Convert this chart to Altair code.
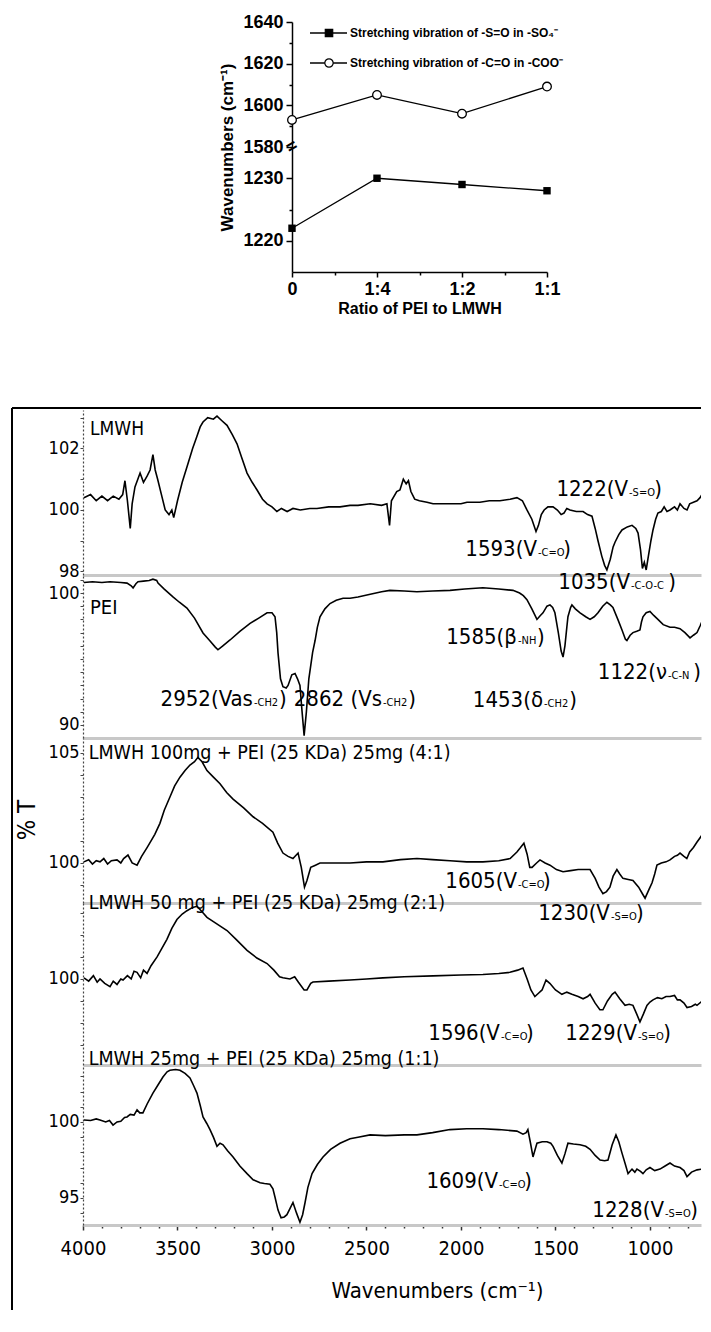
import altair as alt
import pandas as pd

# ---------------- top chart data ----------------
ratio_labels = ["0", "1:4", "1:2", "1:1"]
so_wavenumber = [1222, 1230, 1229, 1228]
co_wavenumber = [1593, 1605, 1596, 1609]
series_names = ["Stretching vibration of -S=O in -SO\u2084\u207b",
                "Stretching vibration of -C=O in -COO\u207b"]

# ---------------- FTIR spectra (wavenumber, %T) ----------------
lmwh = [(3995,100.4),(3960,100.5),(3930,100.3),(3900,100.45),(3870,100.3),(3840,100.45),(3810,100.35),(3790,100.5),(3778,100.95),(3765,100.3),(3750,99.4),(3740,100.2),(3725,100.75),(3710,101.0),(3698,101.2),(3680,100.9),(3661,101.1),(3645,101.3),(3630,101.8),(3618,101.3),(3605,101.0),(3585,100.5),(3565,100.0),(3545,99.85),(3530,100.0),(3520,99.75),(3500,100.3),(3475,100.9),(3450,101.4),(3420,102.0),(3397,102.4),(3380,102.7),(3365,102.86),(3340,103.0),(3310,102.95),(3291,103.05),(3265,102.9),(3238,102.75),(3210,102.45),(3185,102.15),(3160,101.7),(3132,101.2),(3105,100.9),(3079,100.65),(3050,100.35),(3026,100.2),(3000,100.1),(2974,99.95),(2950,100.05),(2920,99.95),(2889,100.05),(2850,100.0),(2800,100.05),(2762,100.05),(2700,100.1),(2640,100.1),(2587,100.15),(2545,100.15),(2480,100.2),(2420,100.15),(2392,100.2),(2378,99.5),(2368,100.3),(2340,100.6),(2323,100.65),(2305,101.0),(2290,100.85),(2278,100.95),(2265,100.6),(2245,100.35),(2220,100.3),(2180,100.25),(2148,100.2),(2080,100.2),(2000,100.2),(1968,100.25),(1900,100.25),(1850,100.3),(1794,100.3),(1740,100.35),(1704,100.4),(1675,100.3),(1651,100.0),(1625,99.7),(1603,99.3),(1590,99.5),(1575,99.85),(1560,100.0),(1540,100.1),(1513,100.1),(1490,100.0),(1470,99.85),(1455,99.9),(1440,100.05),(1423,100.0),(1390,99.95),(1354,99.95),(1330,99.85),(1307,99.8),(1290,99.4),(1275,99.0),(1255,98.5),(1240,98.2),(1228,98.05),(1210,98.4),(1195,98.8),(1185,98.95),(1165,99.2),(1148,99.35),(1120,99.45),(1095,99.5),(1075,99.4),(1063,99.25),(1050,98.7),(1040,98.1),(1030,98.3),(1020,98.05),(1011,98.4),(995,99.0),(984,99.35),(970,99.7),(958,99.9),(940,99.95),(925,100.1),(910,99.95),(894,100.0),(870,100.1),(855,100.0),(841,100.2),(820,100.05),(804,100.0),(790,100.2),(770,100.25),(751,100.3),(735,100.4),(720,100.55),(710,100.5),(700,100.75)]

pei = [(3995,100.8),(3950,100.85),(3900,100.8),(3857,100.85),(3800,100.8),(3767,100.75),(3745,100.55),(3735,100.38),(3720,100.7),(3709,100.85),(3680,100.9),(3650,100.95),(3630,101.05),(3610,100.95),(3603,100.75),(3570,100.3),(3524,99.7),(3490,99.3),(3450,98.86),(3410,98.1),(3365,96.97),(3330,96.4),(3300,95.9),(3286,95.7),(3260,96.0),(3222,96.44),(3170,97.1),(3116,97.7),(3070,98.1),(3026,98.5),(3000,98.5),(2984,98.2),(2975,97.0),(2968,95.45),(2955,93.5),(2942,92.9),(2925,92.8),(2915,93.0),(2895,93.8),(2878,93.9),(2865,93.5),(2852,93.0),(2842,91.2),(2830,89.2),(2818,91.0),(2805,93.5),(2785,95.5),(2772,96.4),(2760,97.4),(2746,98.2),(2720,98.8),(2693,99.2),(2660,99.45),(2624,99.6),(2587,99.6),(2545,99.7),(2480,99.9),(2420,100.1),(2376,100.2),(2300,100.15),(2233,100.1),(2150,100.15),(2058,100.2),(1980,100.3),(1884,100.4),(1800,100.3),(1725,100.2),(1690,100.0),(1670,99.8),(1651,99.5),(1625,98.8),(1598,98.0),(1580,98.3),(1566,98.5),(1545,99.0),(1529,99.1),(1515,98.9),(1503,98.5),(1485,97.0),(1470,95.6),(1460,95.15),(1450,96.0),(1440,97.4),(1434,98.2),(1420,98.9),(1413,99.1),(1395,98.8),(1370,98.5),(1340,98.2),(1317,98.0),(1295,98.2),(1275,98.5),(1250,99.0),(1228,99.3),(1210,99.1),(1196,98.9),(1170,98.0),(1148,97.2),(1130,96.5),(1122,96.4),(1105,96.8),(1090,97.0),(1070,97.1),(1053,97.2),(1045,97.8),(1037,98.2),(1020,98.5),(1000,98.6),(980,98.3),(958,98.0),(930,97.6),(894,97.4),(870,97.4),(841,97.3),(815,97.0),(788,96.6),(770,96.8),(751,97.0),(735,97.5),(720,98.0),(705,98.6),(693,98.9)]

ratio_4_1 = [(3995,100.05),(3970,100.15),(3950,99.95),(3930,100.1),(3910,100.05),(3890,100.2),(3870,99.95),(3850,100.1),(3820,100.14),(3800,100.0),(3785,100.2),(3762,100.36),(3740,100.0),(3714,99.9),(3690,100.3),(3661,100.7),(3640,101.0),(3620,101.3),(3593,101.8),(3570,102.4),(3540,103.0),(3515,103.5),(3487,103.9),(3460,104.2),(3434,104.45),(3410,104.6),(3392,104.8),(3370,104.6),(3344,104.2),(3310,103.9),(3275,103.6),(3240,103.2),(3206,102.9),(3150,102.5),(3100,102.1),(3050,101.8),(2995,101.4),(2970,100.9),(2942,100.45),(2915,100.3),(2889,100.2),(2862,100.45),(2845,99.8),(2828,98.9),(2815,99.2),(2795,99.8),(2770,99.9),(2746,100.0),(2650,100.0),(2587,100.0),(2500,100.05),(2413,100.05),(2320,100.15),(2233,100.2),(2150,100.15),(2058,100.1),(1970,100.05),(1884,100.05),(1800,100.1),(1740,100.2),(1704,100.5),(1685,100.7),(1667,100.9),(1650,100.4),(1636,99.8),(1624,99.8),(1600,100.0),(1582,100.14),(1555,100.0),(1529,99.9),(1495,99.7),(1460,99.6),(1420,99.65),(1380,99.7),(1317,99.7),(1290,99.3),(1270,98.9),(1249,98.6),(1230,98.7),(1212,98.9),(1195,99.4),(1175,99.7),(1160,99.5),(1143,99.3),(1115,99.25),(1090,99.2),(1060,98.9),(1040,98.6),(1026,98.4),(1005,98.8),(989,99.1),(975,99.5),(963,99.9),(940,100.0),(915,100.05),(894,100.14),(870,100.3),(855,100.35),(841,100.45),(820,100.3),(805,100.2),(790,100.5),(770,100.7),(751,100.95),(730,101.2),(715,101.45),(700,101.75)]

ratio_2_1 = [(3995,100.05),(3970,99.9),(3945,100.15),(3925,99.85),(3910,100.0),(3885,99.8),(3857,99.65),(3840,99.9),(3820,99.75),(3800,100.0),(3788,99.95),(3765,100.15),(3745,100.0),(3730,100.35),(3714,100.3),(3695,100.05),(3680,100.4),(3661,100.25),(3640,100.6),(3608,101.0),(3585,101.35),(3556,101.8),(3530,102.3),(3503,102.7),(3475,102.95),(3450,103.1),(3420,103.25),(3397,103.3),(3370,103.05),(3344,102.8),(3300,102.55),(3238,102.2),(3190,101.8),(3132,101.3),(3080,100.95),(3026,100.7),(2990,100.4),(2960,100.1),(2942,100.05),(2905,100.0),(2880,100.1),(2860,99.85),(2830,99.5),(2815,99.5),(2795,99.8),(2783,99.86),(2700,99.9),(2587,99.95),(2500,100.0),(2413,100.05),(2300,100.1),(2148,100.14),(2000,100.18),(1884,100.2),(1800,100.25),(1741,100.3),(1700,100.4),(1672,100.5),(1650,100.0),(1630,99.5),(1609,99.2),(1590,99.35),(1571,99.5),(1550,99.95),(1530,99.8),(1500,99.5),(1466,99.3),(1440,99.4),(1413,99.3),(1380,99.2),(1354,99.1),(1330,99.2),(1317,99.3),(1290,98.9),(1265,98.6),(1249,98.6),(1225,99.0),(1200,99.3),(1185,99.4),(1160,99.1),(1132,98.8),(1110,98.85),(1090,98.8),(1070,98.4),(1053,98.05),(1035,98.4),(1016,98.8),(1000,98.95),(984,99.05),(960,99.15),(937,99.1),(915,99.2),(894,99.2),(870,99.25),(855,99.05),(841,99.05),(820,98.9),(804,98.7),(780,98.75),(760,98.85),(751,98.8),(730,98.95),(709,99.1)]

ratio_1_1 = [(3995,100.13),(3960,100.1),(3930,100.2),(3910,100.13),(3880,100.0),(3860,100.1),(3841,99.8),(3820,100.0),(3800,100.05),(3780,100.3),(3767,100.33),(3750,100.5),(3730,100.45),(3714,100.8),(3700,100.6),(3683,100.6),(3660,101.2),(3630,101.9),(3600,102.5),(3577,102.96),(3555,103.3),(3540,103.4),(3510,103.45),(3487,103.4),(3460,103.2),(3434,102.9),(3415,102.4),(3397,101.9),(3380,101.1),(3365,100.33),(3345,99.9),(3328,99.5),(3310,99.0),(3291,98.4),(3275,98.6),(3259,98.5),(3235,98.1),(3206,97.7),(3170,97.1),(3132,96.6),(3100,96.2),(3063,96.0),(3040,95.95),(3011,95.9),(2995,95.6),(2984,95.05),(2968,94.2),(2952,93.7),(2935,93.75),(2921,93.9),(2905,94.3),(2889,94.7),(2870,94.0),(2852,93.4),(2838,93.9),(2825,94.7),(2810,95.7),(2788,96.6),(2760,97.2),(2730,97.7),(2690,98.2),(2640,98.6),(2587,98.9),(2545,99.0),(2481,99.15),(2400,99.1),(2300,99.15),(2233,99.15),(2150,99.3),(2058,99.5),(1970,99.55),(1884,99.55),(1800,99.5),(1704,99.4),(1672,99.2),(1655,99.3),(1646,99.5),(1632,98.6),(1619,97.7),(1605,98.3),(1598,98.6),(1570,98.7),(1545,98.7),(1525,98.6),(1513,98.4),(1490,97.8),(1466,97.3),(1450,97.9),(1434,98.6),(1405,98.55),(1370,98.5),(1340,98.4),(1317,98.2),(1290,97.8),(1264,97.5),(1240,97.45),(1222,97.5),(1200,98.5),(1180,99.15),(1165,98.7),(1148,97.95),(1130,97.2),(1116,96.6),(1095,96.9),(1080,96.7),(1069,96.9),(1050,96.75),(1037,96.6),(1020,96.85),(1000,97.0),(975,96.8),(947,96.9),(920,97.1),(894,97.3),(870,97.1),(841,97.0),(820,96.8),(804,96.4),(780,96.7),(751,96.85),(725,96.9),(698,96.95)]

spectra = [lmwh, pei, ratio_4_1, ratio_2_1, ratio_1_1]

panel_titles = ["LMWH", "PEI",
                "LMWH 100mg + PEI (25 KDa) 25mg (4:1)",
                "LMWH 50 mg + PEI (25 KDa) 25mg (2:1)",
                "LMWH 25mg + PEI (25 KDa) 25mg (1:1)"]
panel_title_wn = [3963, 3963, 3970, 3970, 3970]
panel_title_t = [102.63, 98.86, 105.0, 103.45, 104.14]
panel_ylabels = [[98, 100, 102], [90, 100], [100, 105], [100], [95, 100]]

# peak annotations: the wavenumber where the main part of the label ends
annot_panel = [0, 0, 0, 1, 1, 1, 1, 1, 2, 2, 3, 3, 4, 4]
annot_main = ["1222(V", "1593(V", "1035(V", "1585(\u03b2", "1122(\u03bd", "2952(Vas", "2862 (Vs", "1453(\u03b4",
              "1605(V", "1230(V", "1596(V", "1229(V", "1609(V", "1228(V"]
annot_sub = ["-S=O", "-C=O", "-C-O-C", "-NH", "-C-N", "-CH2", "-CH2", "-CH2",
             "-C=O", "-S=O", "-C=O", "-S=O", "-C=O", "-S=O"]
annot_wn = [1116, 1598, 1106, 1704, 910, 3101, 2418, 1566, 1704, 1212, 1794, 1069, 1804, 926]
annot_t = [100.68, 98.73, 97.66, 96.67, 94.0, 91.97, 91.97, 91.9, 99.18, 97.73, 97.55, 97.55, 96.12, 94.21]

# ---------------- styling ----------------
BOLD = "Liberation Sans, Arial, Helvetica, sans-serif"
NARROW = "Liberation Sans Narrow, Arial Narrow, DejaVu Sans Condensed, Liberation Sans, sans-serif"

# ---------------- top chart ----------------
top_df = pd.DataFrame({
    "ratio": list(range(len(ratio_labels))) * 2,
    "wn": so_wavenumber + co_wavenumber,
    "series": ["so"] * len(so_wavenumber) + ["co"] * len(co_wavenumber),
})
labels_js = "[" + ",".join("'" + l + "'" for l in ratio_labels) + "]"

tx = alt.X("ratio:Q", scale=alt.Scale(domain=[0, 3], nice=False, zero=False),
           axis=alt.Axis(values=[0, 0.5, 1, 1.5, 2, 2.5, 3],
                         labelExpr="datum.value % 1 == 0 ? " + labels_js + "[datum.value] : ''",
                         tickSize={"condition": {"test": "datum.value % 1 != 0", "value": 3}, "value": 5},
                         domainColor="black", tickColor="black", domainWidth=1.5, tickWidth=1.5,
                         labelFont=BOLD, labelFontWeight="bold", labelFontSize=18, labelColor="black",
                         labelPadding=3, labelFlush=False, labelOverlap=False, grid=False,
                         title="Ratio of PEI to LMWH", titleFont=BOLD, titleFontSize=16,
                         titleFontWeight="bold", titleColor="black", titlePadding=2))
ty = alt.Y("pos:Q", scale=alt.Scale(domain=[0, 120], nice=False, zero=False),
           axis=alt.Axis(values=[15, 30, 45, 60, 70, 80, 90, 100, 110, 120],
                         labelExpr="datum.value % 20 == 10 ? '' : (datum.value < 59 ? format(datum.value / 3 + 1215, 'd') : format(datum.value + 1520, 'd'))",
                         tickSize={"condition": {"test": "datum.value % 20 == 10", "value": 3}, "value": 6},
                         domainColor="black", tickColor="black", domainWidth=1.5, tickWidth=1.5,
                         labelFont=BOLD, labelFontWeight="bold", labelFontSize=18, labelColor="black",
                         labelPadding=3, labelFlush=False, labelOverlap=False, grid=False,
                         title="Wavenumbers (cm\u207b\u00b9)", titleFont=BOLD, titleFontSize=17,
                         titleFontWeight="bold", titleColor="black", titlePadding=6))

tbase = alt.Chart(top_df).transform_calculate(
    pos="datum.wn < 1400 ? (datum.wn - 1215) * 3 : 60 + (datum.wn - 1580)")
t_lines = tbase.mark_line(color="black", strokeWidth=1.3).encode(x=tx, y=ty, detail="series:N")
t_sq = tbase.transform_filter("datum.series == 'so'").mark_point(
    shape="square", filled=True, color="black", size=55, opacity=1).encode(x=tx, y=ty)
t_ci = tbase.transform_filter("datum.series == 'co'").mark_point(
    shape="circle", filled=True, fill="white", stroke="black", strokeWidth=1.3, size=75, opacity=1).encode(x=tx, y=ty)

leg_layers = []
leg_shapes = [("square", "black"), ("circle", "white")]
for i, name in enumerate(series_names):
    yv = 11 + 30 * i
    d = pd.DataFrame({"label": [name]})
    leg_layers.append(alt.Chart(d).mark_rule(color="black", strokeWidth=1.3).encode(
        x=alt.value(18), x2=alt.value(55), y=alt.value(yv)))
    shp, fl = leg_shapes[i]
    leg_layers.append(alt.Chart(d).mark_point(shape=shp, filled=True, fill=fl, stroke="black",
                                               strokeWidth=1.2, size=55 if shp == "square" else 70,
                                               opacity=1).encode(x=alt.value(37), y=alt.value(yv)))
    leg_layers.append(alt.Chart(d).mark_text(align="left", baseline="middle", font=BOLD,
                                              fontWeight="bold", fontSize=12, color="black").encode(
        x=alt.value(58), y=alt.value(yv), text="label:N"))

brk = alt.Chart(pd.DataFrame({"b": ["="]})).mark_text(
    fontSize=18, fontWeight="bold", font=BOLD, angle=330, color="black").encode(
    x=alt.value(0), y=alt.value(125), text="b:N")

top = alt.layer(t_lines, t_sq, t_ci, *leg_layers, brk).properties(width=255, height=250)

spacer = alt.Chart(pd.DataFrame({"a": [0]})).mark_point(opacity=0).encode(
    x=alt.value(0), y=alt.value(0)).properties(width=135, height=10)

top_row = alt.hconcat(spacer, top, spacing=0)

# ---------------- FTIR panels ----------------
W = 618
XDOM = [730, 4000]
panel_heights = [165, 163, 165, 162, 160]
panel_ydom = [[97.886, 103.25], [89.015, 101.364], [98.18, 105.68], [96.09, 103.45], [93.22, 103.75]]
title_sizes = [19, 20, 19.5, 19.5, 19.5]

MAIN_FS = 22
SUB_FS = 11

panels = []
for p in range(5):
    df = pd.DataFrame(spectra[p], columns=["wn", "t"])
    lo, hi = panel_ydom[p]
    ticks = list(range(int(lo) + 1, int(hi) + 1))
    cond = " || ".join("datum.value == %d" % v for v in panel_ylabels[p])
    last = p == 4
    if last:
        xaxis = alt.Axis(values=list(range(800, 4001, 100)),
                         labelExpr="datum.value % 500 == 0 ? format(datum.value, 'd') : ''",
                         tickSize={"condition": {"test": "datum.value % 500 == 0", "value": 5}, "value": 3},
                         tickColor="#333", tickWidth=1.5, domainColor="#c8c8c8", domainWidth=3,
                         labelFont=NARROW, labelFontSize=20, labelColor="black", labelPadding=8,
                         labelFlush=False, labelOverlap=False, grid=False,
                         title="Wavenumbers (cm\u207b\u00b9)", titleFont=NARROW, titleFontSize=22,
                         titleFontWeight="normal", titleColor="black", titleX=354, titleY=55)
    else:
        xaxis = alt.Axis(labels=False, ticks=False, domainColor="#c8c8c8", domainWidth=3,
                         grid=False, title=None)
    xe = alt.X("wn:Q", scale=alt.Scale(domain=XDOM, reverse=True, nice=False, zero=False), axis=xaxis)
    ye = alt.Y("t:Q", scale=alt.Scale(domain=[lo, hi], nice=False, zero=False),
               axis=alt.Axis(values=ticks,
                             labelExpr="(" + cond + ") ? datum.label : ''",
                             tickSize=3, tickColor="#444", domainColor="#444", domainDash=[2, 2],
                             domainWidth=1.2, labelFont=NARROW, labelFontSize=18, labelColor="black",
                             labelPadding=1, labelFlush=False, labelOverlap=False, grid=False, title=None))
    layers = [alt.Chart(df).mark_line(color="black", strokeWidth=1.6, clip=True).encode(x=xe, y=ye)]

    tdf = pd.DataFrame({"wn": [panel_title_wn[p]], "t": [panel_title_t[p]], "label": [panel_titles[p]]})
    layers.append(alt.Chart(tdf).mark_text(align="left", baseline="middle", font=NARROW,
                                           fontSize=title_sizes[p], color="black").encode(
        x=xe, y=ye, text="label:N"))

    for k in range(len(annot_panel)):
        if annot_panel[k] != p:
            continue
        adf = pd.DataFrame({"wn": [annot_wn[k]], "t": [annot_t[k]],
                            "main": [annot_main[k]], "sub": [annot_sub[k]]})
        ws = len(annot_sub[k]) * 0.55 * SUB_FS
        layers.append(alt.Chart(adf).mark_text(align="right", baseline="middle", font=NARROW,
                                               fontSize=MAIN_FS, color="black").encode(
            x=xe, y=ye, text="main:N"))
        layers.append(alt.Chart(adf).mark_text(align="left", baseline="middle", font=NARROW,
                                               fontSize=SUB_FS, color="black", dx=1, dy=4).encode(
            x=xe, y=ye, text="sub:N"))
        layers.append(alt.Chart(adf).mark_text(align="left", baseline="middle", font=NARROW,
                                               fontSize=MAIN_FS, color="black", dx=2 + ws, text=")").encode(
            x=xe, y=ye))

    fdf = pd.DataFrame({"f": [0]})
    H = panel_heights[p]
    top_y = -2 if p == 0 else 0
    bot_y = H + 85 if last else H
    layers.append(alt.Chart(fdf).mark_rule(color="black", strokeWidth=2).encode(
        x=alt.value(-71), y=alt.value(top_y), y2=alt.value(bot_y)))
    if p == 0:
        layers.append(alt.Chart(fdf).mark_rule(color="black", strokeWidth=2).encode(
            x=alt.value(-71), x2=alt.value(W), y=alt.value(-2)))
    if p == 2:
        layers.append(alt.Chart(pd.DataFrame({"lab": ["% T"]})).mark_text(
            angle=270, font=NARROW, fontSize=24, color="black", baseline="middle").encode(
            x=alt.value(-55), y=alt.value(82), text="lab:N"))

    panels.append(alt.layer(*layers).properties(width=W, height=H))

bottom = alt.vconcat(*panels, spacing=0, bounds="flush")

chart = alt.vconcat(top_row, bottom, spacing=91).properties(
    padding={"left": 3, "top": 5, "right": 0, "bottom": 0},
    background="white",
).configure_view(strokeWidth=0)

chart.save("out.html", embed_options={"renderer": "svg", "actions": False})
